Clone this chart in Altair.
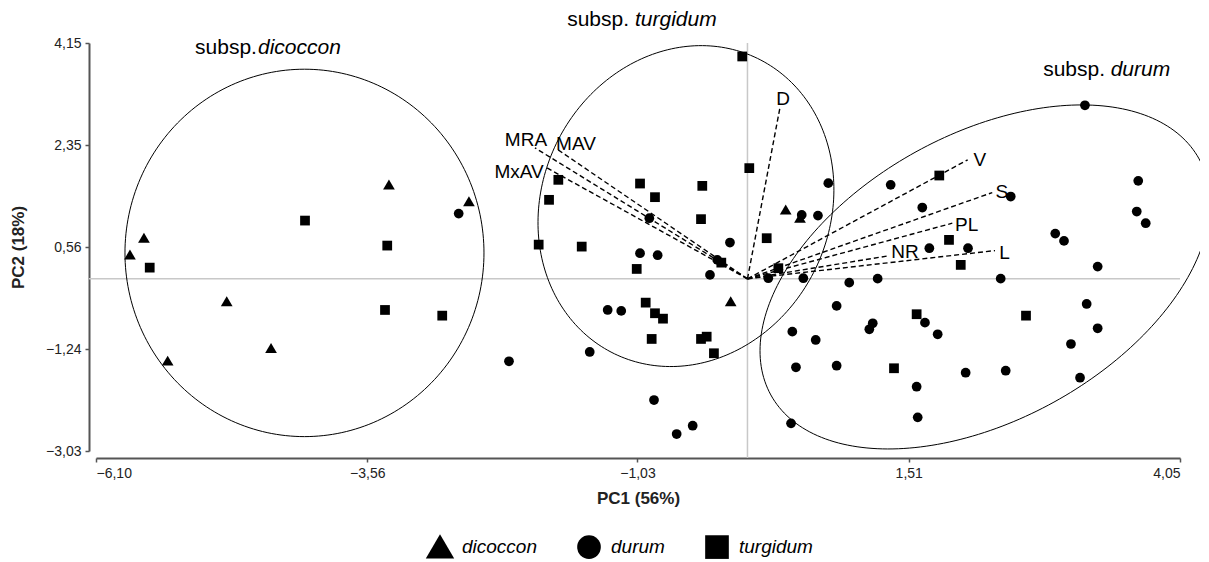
import altair as alt
import pandas as pd
import numpy as np

# ---------------- data ----------------
X_MIN, X_MAX = -6.10, 4.05
Y_MIN, Y_MAX = -3.03, 4.15
x_ticks = [-6.10, -3.56, -1.03, 1.51, 4.05]
y_ticks = [-3.03, -1.24, 0.56, 2.35, 4.15]

groups = ["dicoccon", "durum", "turgidum"]
shapes = ["M0,-1.1L1.2,0.95L-1.2,0.95Z", "circle", "square"]

dicoccon_x = [-5.782, -5.651, -5.429, -4.876, -4.461, -3.357, -2.608, 0.358, 0.492, -0.157]
dicoccon_y = [0.421, 0.715, -1.446, -0.401, -1.222, 1.654, 1.360, 1.213, 1.067, -0.401]

turgidum_x = [-5.597, -4.143, -3.373, -3.394, -2.858, -0.049, 0.017, -1.771, -1.858, -1.006,
              -0.866, -0.423, -0.435, -1.955, -1.552, -1.037, 0.180, -0.245, -0.953, -0.866,
              -0.791, -0.897, -0.435, -0.382, -0.314, 0.289, 1.796, 1.887, 1.997, 1.584,
              2.608, 1.372]
turgidum_y = [0.197, 1.025, 0.585, -0.548, -0.648, 3.913, 1.948, 1.742, 1.390, 1.677,
              1.437, 1.636, 1.050, 0.602, 0.567, 0.174, 0.715, 0.285, -0.419, -0.606,
              -0.701, -1.058, -1.058, -1.018, -1.310, 0.187, 1.818, 0.685, 0.245, -0.623,
              -0.648, -1.574]

durum_x = [-2.704, -0.919, -1.006, -0.841, -0.164, -0.283, -0.351, -1.309, -1.182, -1.477,
           -2.233, -0.875, -0.513, -0.663, 0.757, 0.660, 0.508, 0.195, 0.523, 0.835,
           0.420, 0.639, 0.454, 0.835, 0.408, 0.953, 1.219, 1.341, 2.465, 1.637,
           1.703, 2.065, 2.371, 2.882, 2.964, 3.279, 3.160, 3.659, 3.645, 3.729,
           1.662, 1.173, 1.141, 1.781, 3.176, 3.279, 3.029, 2.043, 2.418, 1.584,
           3.114, 1.594]
durum_y = [1.148, 1.067, 0.451, 0.416, 0.638, 0.333, 0.069, -0.548, -0.565, -1.287,
           -1.451, -2.133, -2.585, -2.732, 1.684, 1.113, 1.125, 0.011, 0.011, -0.477,
           -0.930, -1.076, -1.557, -1.529, -2.543, -0.067, 0.003, 1.654, 1.448, 1.254,
           0.539, 0.539, 0.003, 0.796, 0.667, 0.215, 3.054, 1.724, 1.184, 0.979,
           -0.771, -0.782, -0.888, -0.976, -0.442, -0.870, -1.147, -1.652, -1.617, -1.899,
           -1.740, -2.438]

# loading vectors (from origin)
vector_names = ["D", "MRA", "MAV", "MxAV", "V", "S", "PL", "NR", "L"]
vector_x = [0.304, -1.990, -1.774, -1.896, 2.062, 2.292, 1.918, 1.316, 2.318]
vector_y = [3.010, 2.305, 2.270, 1.971, 2.094, 1.518, 0.979, 0.403, 0.497]
vlabel_x = [0.333, -2.074, -1.606, -2.139, 2.177, 2.383, 2.053, 1.475, 2.408]
vlabel_y = [3.168, 2.446, 2.376, 1.888, 2.094, 1.531, 0.944, 0.474, 0.461]

# group ellipses: centre (data units), semi-axes (px), rotation (deg)
ell_names = ["dicoccon", "turgidum", "durum"]
ell_cx = [-4.148, -0.576, 2.224]
ell_cy = [0.456, 1.280, 0.033]
ell_a = [179.5, 164.1, 244.5]
ell_b = [183.7, 143.9, 142.9]
ell_ang = [0.0, 64.15, 28.86]

# group titles
title_species = ["dicoccon", "turgidum", "durum"]
title_prefix_x = [-4.593, -1.109, 3.348]
title_species_x = [-4.583, -1.053, 3.401]
title_y = [4.067, 4.560, 3.679]

# ---------------- layout ----------------
W, H = 1084, 408
FONT = "Liberation Sans"
AXIS_OFFSET = 7

pts = pd.DataFrame({
    "x": dicoccon_x + durum_x + turgidum_x,
    "y": dicoccon_y + durum_y + turgidum_y,
    "group": ["dicoccon"] * len(dicoccon_x) + ["durum"] * len(durum_x) + ["turgidum"] * len(turgidum_x),
})

sx = W / (X_MAX - X_MIN)
sy = H / (Y_MAX - Y_MIN)
rows = []
for name, cx, cy, a, b, ang in zip(ell_names, ell_cx, ell_cy, ell_a, ell_b, ell_ang):
    phi = np.radians(ang)
    for i, t in enumerate(np.linspace(0, 2 * np.pi, 241)):
        px = a * np.cos(t) * np.cos(phi) - b * np.sin(t) * np.sin(phi)
        py = a * np.cos(t) * np.sin(phi) + b * np.sin(t) * np.cos(phi)
        rows.append({"ellipse": name, "i": i, "x": cx + px / sx, "y": cy + py / sy})
ell = pd.DataFrame(rows)

vec = pd.DataFrame({"name": vector_names, "x": [0.0] * len(vector_x), "y": [0.0] * len(vector_y),
                    "x2": vector_x, "y2": vector_y, "lx": vlabel_x, "ly": vlabel_y})

titles = pd.DataFrame({"sp": title_species, "px": title_prefix_x, "spx": title_species_x,
                       "y": title_y, "prefix": ["subsp."] * 3})

lab_expr = "replace(format(datum.value, '.2f'), '.', ',')"
xscale = alt.Scale(domain=[X_MIN, X_MAX], nice=False, zero=False)
yscale = alt.Scale(domain=[Y_MIN, Y_MAX], nice=False, zero=False)
xaxis = alt.Axis(values=x_ticks, labelExpr=lab_expr, title="PC1 (56%)", grid=False,
                 offset=AXIS_OFFSET, titlePadding=10)
yaxis = alt.Axis(values=y_ticks, labelExpr=lab_expr, title="PC2 (18%)", grid=False,
                 offset=AXIS_OFFSET, titlePadding=18)


def X(field):
    return alt.X(field, type="quantitative", scale=xscale, axis=xaxis)


def Y(field):
    return alt.Y(field, type="quantitative", scale=yscale, axis=yaxis)


# gray zero lines reach the detached axes
gray = alt.Chart(pd.DataFrame({"x": [0.0], "y": [Y_MIN - AXIS_OFFSET / sy], "y2": [Y_MAX]})).mark_rule(
    color="#c8c8c8", strokeWidth=1.5
).encode(x=X("x"), y=Y("y"), y2="y2")
gray_h = alt.Chart(pd.DataFrame({"x": [X_MIN - AXIS_OFFSET / sx], "x2": [X_MAX], "y": [0.0]})).mark_rule(
    color="#c8c8c8", strokeWidth=1.5
).encode(x=X("x"), x2="x2", y=Y("y"))

ellipses = alt.Chart(ell).mark_line(color="black", strokeWidth=1).encode(
    x=X("x"), y=Y("y"), detail="ellipse:N", order="i:Q"
)

vectors = alt.Chart(vec).mark_rule(color="black", strokeWidth=1.4, strokeDash=[5, 3]).encode(
    x=X("x"), y=Y("y"), x2="x2", y2="y2"
)

vlabels = alt.Chart(vec).mark_text(font=FONT, fontSize=19, color="black", align="center",
                                   baseline="middle").encode(
    x=X("lx"), y=Y("ly"), text="name:N"
)

points = alt.Chart(pts).mark_point(filled=True, size=95, color="black", opacity=1).encode(
    x=X("x"), y=Y("y"),
    shape=alt.Shape("group:N", scale=alt.Scale(domain=groups, range=shapes),
                    legend=alt.Legend(orient="none", legendX=332, legendY=492,
                                      direction="horizontal", title=None,
                                      symbolSize=560, symbolFillColor="black",
                                      symbolStrokeColor="black", symbolStrokeWidth=0,
                                      labelFont=FONT, labelFontSize=19, labelFontStyle="italic",
                                      labelColor="black", labelOffset=10, columnPadding=40,
                                      padding=0)),
)

tprefix = alt.Chart(titles).mark_text(font=FONT, fontSize=21, color="black", align="right",
                                      baseline="middle").encode(
    x=X("px"), y=Y("y"), text="prefix:N"
)
tspecies = alt.Chart(titles).mark_text(font=FONT, fontSize=21, fontStyle="italic", color="black",
                                       align="left", baseline="middle").encode(
    x=X("spx"), y=Y("y"), text="sp:N"
)

chart = alt.layer(gray, gray_h, ellipses, vectors, points, vlabels, tprefix, tspecies).properties(
    width=W, height=H,
    autosize=alt.AutoSizeParams(type="none"),
    padding={"left": 88, "top": 35, "right": 20, "bottom": 110},
    background="white",
).configure_view(stroke=None).configure_axis(
    domainColor="#555555", domainWidth=2, tickColor="#555555", tickWidth=1.5, tickSize=4,
    labelFont=FONT, labelFontSize=14, labelColor="#222222", labelPadding=4,
    titleFont=FONT, titleFontSize=17, titleFontWeight="bold", titleColor="#222222",
)

chart.save("out.html", embed_options={"renderer": "svg", "actions": False})
